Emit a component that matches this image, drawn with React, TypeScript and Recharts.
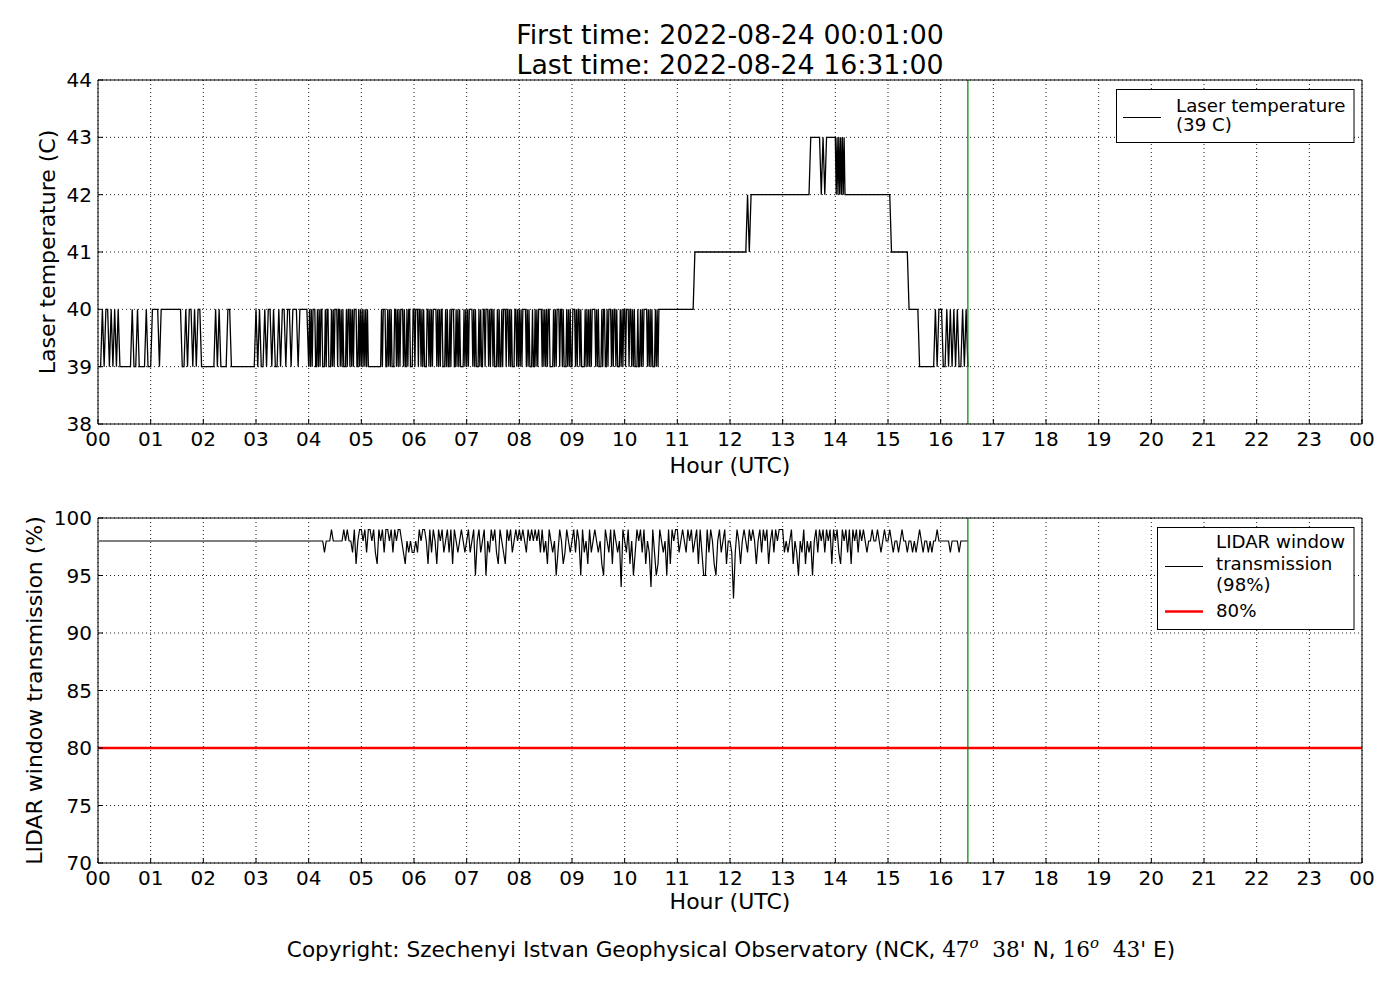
import React from 'react';
import { LineChart, Line, XAxis, YAxis, CartesianGrid, ReferenceLine } from 'recharts';

// ---------- data ----------
const hourTicks = [0, 1, 2, 3, 4, 5, 6, 7, 8, 9, 10, 11, 12, 13, 14, 15, 16, 17, 18, 19, 20, 21, 22, 23, 24];
const tempTicks = [38, 39, 40, 41, 42, 43, 44];
const transTicks = [70, 75, 80, 85, 90, 95, 100];

const firstTimeLabel = 'First time: 2022-08-24 00:01:00';
const lastTimeLabel = 'Last time: 2022-08-24 16:31:00';
const lastTimeHour = 16 + 31 / 60;
const thresholdPct = 80;

// Laser temperature, sampled runs: digit = temperature - 39 (C)
const tempBase = 39;
const tempSegStart = [1 / 60, 1, 2, 3, 4, 5, 6, 7, 8, 9, 10, 11, 12, 13, 14, 15, 16 + 1 / 60];
const tempSegStepMin = [2, 2, 2, 2, 1, 1, 1, 1, 1, 1, 1, 2, 2, 2, 1, 2, 2];
const tempSegCodes = [
  '001011010101000000010010000100',
  '011110111111111111001011010110',
  '000000010100001100000000000000',
  '101001011010010110110111011111',
  '010101110010101100010110001010111011010100010110101011100101',
  '010101010000000000000001011100101010001101010111010010110001',
  '101110110101000110101011110101011000101001011100101010000101',
  '010111101010001010011011101011010001010010111011010100011010',
  '101011110101000100101011110101010110000101011101101000101010',
  '011101011010000101010101111010100010110010111010110100010101',
  '101110110101000100101011110101010001010111111111111111111111',
  '111111111122222222222222222222',
  '222222222232333333333333333333',
  '333333333333333344444434344444',
  '434343434343333333333333333333333333333333333333333333333333',
  '332222222222111111000000000101',
  '1001010101001010',
];

// LIDAR window transmission: digit = transmission - 90 (%)
const transBase = 90;
const transSegStart = [1 / 60, 4.2, 5, 6, 7, 8, 9, 10, 11, 12, 13, 14, 15, 16 + 1 / 60];
const transSegStepMin = [60, 2, 2, 2, 2, 2, 2, 2, 2, 2, 2, 2, 2, 2];
const transSegCodes = [
  '88888',
  '888788898888889898879689',
  '989799897698979989798998768787',
  '787989986979869897897969878987',
  '897895897895879897698769897898',
  '989879898989797869878579867987',
  '897985978697898786598796987849',
  '879685798979687497569878596989',
  '978987989789697559798658978968',
  '873798689879898689798968979899',
  '978789687587968785897989798969',
  '897698979698979898788988987898',
  '898788789887887878987887878898',
  '8888878888788888',
];

function decode(starts: number[], steps: number[], codes: string[], base: number) {
  const out: { t: number; v: number }[] = [];
  codes.forEach((code, k) => {
    for (let i = 0; i < code.length; i++) {
      out.push({ t: starts[k] + (i * steps[k]) / 60, v: base + Number(code[i]) });
    }
  });
  return out;
}

const tempData = decode(tempSegStart, tempSegStepMin, tempSegCodes, tempBase);
const transData = decode(transSegStart, transSegStepMin, transSegCodes, transBase);

const fmtHour = (h: number) => String(h % 24).padStart(2, '0');

const FONT = 'DejaVu Sans';
const tickStyle = { fill: '#000', fontSize: 20, fontFamily: FONT };

function Panel({
  top,
  height,
  data,
  yDomain,
  yTicks,
  lineWidth,
  children,
}: {
  top: number;
  height: number;
  data: { t: number; v: number }[];
  yDomain: [number, number];
  yTicks: number[];
  lineWidth: number;
  children?: React.ReactNode;
}) {
  return (
    <div style={{ position: 'absolute', left: 0, top, width: 1400, height }}>
      <LineChart width={1400} height={height} margin={{ top: 79, right: 37, bottom: 46, left: 0 }}>
        <CartesianGrid stroke="#000" strokeDasharray="1 3" strokeWidth={0.9} />
        <XAxis
          dataKey="t"
          type="number"
          domain={[0, 24]}
          ticks={hourTicks}
          interval={0}
          allowDataOverflow
          tickFormatter={fmtHour}
          height={30}
          tickSize={-5}
          tickMargin={13}
          tick={tickStyle}
          axisLine={{ stroke: '#000', strokeWidth: 1 }}
          tickLine={{ stroke: '#000' }}
        />
        <XAxis
          xAxisId="top"
          orientation="top"
          type="number"
          domain={[0, 24]}
          ticks={hourTicks}
          interval={0}
          allowDataOverflow
          height={1}
          tickSize={-5}
          tick={false}
          axisLine={{ stroke: '#000', strokeWidth: 1 }}
          tickLine={{ stroke: '#000' }}
        />
        <YAxis
          type="number"
          domain={yDomain}
          ticks={yTicks}
          interval={0}
          allowDataOverflow
          width={98}
          tickSize={-5}
          tickMargin={11}
          tick={tickStyle}
          axisLine={{ stroke: '#000', strokeWidth: 1 }}
          tickLine={{ stroke: '#000' }}
        />
        <YAxis
          yAxisId="right"
          orientation="right"
          type="number"
          domain={yDomain}
          ticks={yTicks}
          interval={0}
          allowDataOverflow
          width={1}
          tickSize={-5}
          tick={false}
          axisLine={{ stroke: '#000', strokeWidth: 1 }}
          tickLine={{ stroke: '#000' }}
        />
        {children}
        <Line
          data={data}
          dataKey="v"
          type="linear"
          stroke="#000"
          strokeWidth={lineWidth}
          dot={false}
          activeDot={false}
          isAnimationActive={false}
        />
        <ReferenceLine x={lastTimeHour} stroke="#008000" strokeWidth={1.2} />
      </LineChart>
    </div>
  );
}

export default function App() {
  return (
    <div
      style={{
        position: 'absolute',
        left: 0,
        top: 0,
        width: 1400,
        height: 1000,
        background: '#fff',
        fontFamily: FONT,
      }}
    >
      <Panel top={0} height={500} data={tempData} yDomain={[38, 44]} yTicks={tempTicks} lineWidth={1.3} />
      <Panel top={438} height={501} data={transData} yDomain={[70, 100]} yTicks={transTicks} lineWidth={1.2}>
        <ReferenceLine y={thresholdPct} stroke="#ff0000" strokeWidth={2.5} />
      </Panel>
      <svg
        width={1400}
        height={1000}
        style={{ position: 'absolute', left: 0, top: 0, pointerEvents: 'none' }}
        fontFamily={FONT}
      >
        <text x={730} y={44} fontSize={26.8} textAnchor="middle" fill="#000">
          {firstTimeLabel}
        </text>
        <text x={730} y={74} fontSize={26.8} textAnchor="middle" fill="#000">
          {lastTimeLabel}
        </text>

        <text x={730} y={473} fontSize={22} textAnchor="middle" fill="#000">
          Hour (UTC)
        </text>
        <text x={730} y={909} fontSize={22} textAnchor="middle" fill="#000">
          Hour (UTC)
        </text>
        <text x={55} y={252} fontSize={22} textAnchor="middle" fill="#000" transform="rotate(-90 55 252)">
          Laser temperature (C)
        </text>
        <text x={42} y={690.5} fontSize={22} textAnchor="middle" fill="#000" transform="rotate(-90 42 690.5)">
          LIDAR window transmission (%)
        </text>

        {/* legend top */}
        <rect x={1116.5} y={89.5} width={237.5} height={53} fill="#fff" stroke="#000" strokeWidth={1} />
        <line x1={1123} x2={1161} y1={117.5} y2={117.5} stroke="#000" strokeWidth={1.2} />
        <text x={1176} y={112} fontSize={18.2} fill="#000">Laser temperature</text>
        <text x={1176} y={131} fontSize={18.2} fill="#000">(39 C)</text>

        {/* legend bottom */}
        <rect x={1157.5} y={527.5} width={196.5} height={102} fill="#fff" stroke="#000" strokeWidth={1} />
        <line x1={1165} x2={1203} y1={566.5} y2={566.5} stroke="#000" strokeWidth={1.2} />
        <text x={1216} y={548} fontSize={18.2} fill="#000">LIDAR window</text>
        <text x={1216} y={570} fontSize={18.2} fill="#000">transmission</text>
        <text x={1216} y={591} fontSize={18.2} fill="#000">(98%)</text>
        <line x1={1165} x2={1203} y1={611.5} y2={611.5} stroke="#ff0000" strokeWidth={2.5} />
        <text x={1216} y={617} fontSize={18.2} fill="#000">80%</text>

        <text x={731} y={957} fontSize={21.6} textAnchor="middle" fill="#000" style={{ whiteSpace: 'pre' }}>
          <tspan>Copyright: Szechenyi Istvan Geophysical Observatory (NCK, </tspan>
          <tspan fontFamily="DejaVu Serif">47</tspan>
          <tspan fontFamily="DejaVu Serif" fontStyle="italic" fontSize={15} dy={-9}>o</tspan>
          <tspan fontFamily="DejaVu Serif" dy={9}>{'  38\''}</tspan>
          <tspan> N, </tspan>
          <tspan fontFamily="DejaVu Serif">16</tspan>
          <tspan fontFamily="DejaVu Serif" fontStyle="italic" fontSize={15} dy={-9}>o</tspan>
          <tspan fontFamily="DejaVu Serif" dy={9}>{'  43\''}</tspan>
          <tspan> E)</tspan>
        </text>
      </svg>
    </div>
  );
}
